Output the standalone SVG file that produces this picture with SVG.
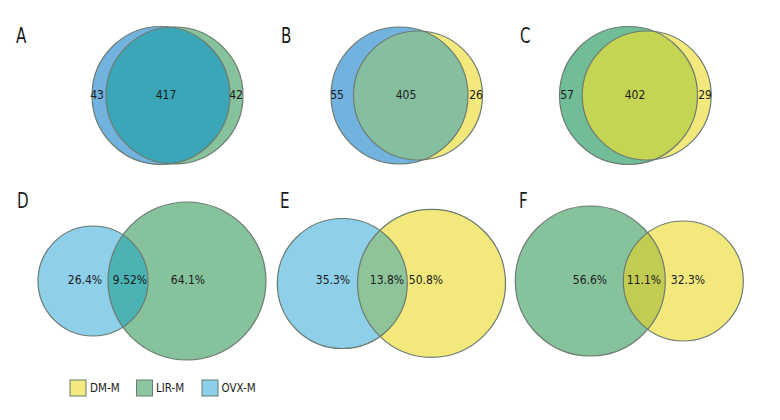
<svg xmlns="http://www.w3.org/2000/svg" width="780" height="420" viewBox="0 0 780 420">
<style>
text{font-family:"DejaVu Sans Condensed","Liberation Sans Narrow","Liberation Sans",sans-serif;font-stretch:condensed;fill:#1a1a1a}
.lbl{font-size:21px;text-anchor:start}
.num{font-size:12px;text-anchor:middle;dominant-baseline:central}
.leg{font-size:11.5px;dominant-baseline:central}
.ol{fill:none;stroke:#6b7a70;stroke-width:1.2}
.blue{fill:#72b2de}
.blue2{fill:#8ecfe9}
.green{fill:#86c39d}
.green2{fill:#70bd98}
.yellow{fill:#f2e87c}
</style>
<defs>
<clipPath id="cA"><circle cx="161" cy="95.5" r="69"/></clipPath>
<clipPath id="cB"><circle cx="399.5" cy="95.5" r="68.5"/></clipPath>
<clipPath id="cC"><circle cx="628.5" cy="95.5" r="69"/></clipPath>
<clipPath id="cD"><circle cx="93" cy="281" r="55"/></clipPath>
<clipPath id="cE"><circle cx="342.3" cy="283.5" r="65"/></clipPath>
<clipPath id="cF"><circle cx="590.3" cy="281" r="75"/></clipPath>
</defs>
<rect width="780" height="420" fill="#ffffff"/>

<g id="panelA">
<text class="lbl" transform="translate(16,43) scale(0.8,1)">A</text>
<circle class="blue" cx="161" cy="95.5" r="69"/>
<circle class="green" cx="174.5" cy="95.5" r="68.5"/>
<circle cx="174.5" cy="95.5" r="68.5" fill="#3ba6b7" clip-path="url(#cA)"/>
<circle class="ol" cx="161" cy="95.5" r="69"/>
<circle class="ol" cx="174.5" cy="95.5" r="68.5"/>
<text class="num" x="97" y="95">43</text>
<text class="num" x="166" y="95">417</text>
<text class="num" x="236" y="95">42</text>
</g>

<g id="panelB">
<text class="lbl" transform="translate(281,43) scale(0.8,1)">B</text>
<circle class="blue" cx="399.5" cy="95.5" r="68.5"/>
<circle class="yellow" cx="418" cy="95.5" r="64.5"/>
<circle cx="418" cy="95.5" r="64.5" fill="#86bfa0" clip-path="url(#cB)"/>
<circle class="ol" cx="399.5" cy="95.5" r="68.5"/>
<circle class="ol" cx="418" cy="95.5" r="64.5"/>
<text class="num" x="337" y="95">55</text>
<text class="num" x="406" y="95">405</text>
<text class="num" x="476" y="95">26</text>
</g>

<g id="panelC">
<text class="lbl" transform="translate(520,43) scale(0.8,1)">C</text>
<circle class="green2" cx="628.5" cy="95.5" r="69"/>
<circle class="yellow" cx="646.7" cy="95.5" r="64.5"/>
<circle cx="646.7" cy="95.5" r="64.5" fill="#c5d452" clip-path="url(#cC)"/>
<circle class="ol" cx="628.5" cy="95.5" r="69"/>
<circle class="ol" cx="646.7" cy="95.5" r="64.5"/>
<text class="num" x="567" y="95">57</text>
<text class="num" x="635" y="95">402</text>
<text class="num" x="705" y="95">29</text>
</g>

<g id="panelD">
<text class="lbl" transform="translate(17,208) scale(0.8,1)">D</text>
<circle class="blue2" cx="93" cy="281" r="55"/>
<circle class="green" cx="187" cy="281" r="79"/>
<circle cx="187" cy="281" r="79" fill="#4cb3b4" clip-path="url(#cD)"/>
<circle class="ol" cx="93" cy="281" r="55"/>
<circle class="ol" cx="187" cy="281" r="79"/>
<text class="num" x="85" y="280">26.4%</text>
<text class="num" x="130" y="280">9.52%</text>
<text class="num" x="188" y="280">64.1%</text>
</g>

<g id="panelE">
<text class="lbl" transform="translate(280,208) scale(0.8,1)">E</text>
<circle class="blue2" cx="342.3" cy="283.5" r="65"/>
<circle class="yellow" cx="431.5" cy="283.3" r="74"/>
<circle cx="431.5" cy="283.3" r="74" fill="#8fc49a" clip-path="url(#cE)"/>
<circle class="ol" cx="342.3" cy="283.5" r="65"/>
<circle class="ol" cx="431.5" cy="283.3" r="74"/>
<text class="num" x="333" y="280">35.3%</text>
<text class="num" x="387" y="280">13.8%</text>
<text class="num" x="426" y="280">50.8%</text>
</g>

<g id="panelF">
<text class="lbl" transform="translate(519,208) scale(0.8,1)">F</text>
<circle class="green" cx="590.3" cy="281" r="75"/>
<circle class="yellow" cx="683.3" cy="281" r="60"/>
<circle cx="683.3" cy="281" r="60" fill="#c3cc52" clip-path="url(#cF)"/>
<circle class="ol" cx="590.3" cy="281" r="75"/>
<circle class="ol" cx="683.3" cy="281" r="60"/>
<text class="num" x="590" y="280">56.6%</text>
<text class="num" x="644" y="280">11.1%</text>
<text class="num" x="688" y="280">32.3%</text>
</g>

<g id="legend">
<rect x="70" y="380" width="16" height="16" fill="#f3e97f" stroke="#6b7a70" stroke-width="1"/>
<text class="leg" x="90" y="388">DM-M</text>
<rect x="136.5" y="380" width="16" height="16" fill="#8cc5a0" stroke="#6b7a70" stroke-width="1"/>
<text class="leg" x="156" y="388">LIR-M</text>
<rect x="202" y="380" width="16" height="16" fill="#8ccfea" stroke="#6b7a70" stroke-width="1"/>
<text class="leg" x="221.5" y="388">OVX-M</text>
</g>
</svg>
